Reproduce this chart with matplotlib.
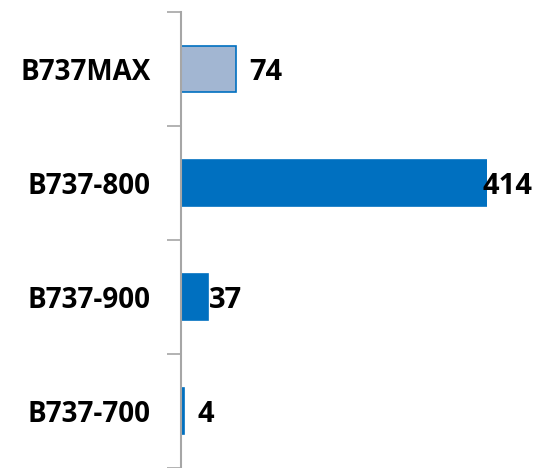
import matplotlib.pyplot as plt
import numpy as np

# data (top to bottom in the picture)
models = ['B737MAX', 'B737-800', 'B737-900', 'B737-700']
counts = [74, 414, 37, 4]
face_colors = ['#A2B6D2', '#0070C0', '#0070C0', '#0070C0']

plt.rcParams['font.family'] = ['Open Sans', 'DejaVu Sans']

fig = plt.figure(figsize=(5.36, 4.68), dpi=100)
ax = fig.add_axes([181 / 536, 0, 306 / 536, 456 / 468])

y = np.arange(len(models))[::-1]
ax.barh(y, counts, height=0.4, color=face_colors, edgecolor='#0070C0', linewidth=1.2)

ax.set_xlim(0, max(counts))
ax.set_ylim(-0.5, len(models) - 0.5)

# label offsets in points (as the source chart placed them)
label_dx = [10, -3, 0.5, 10]
for yi, v, dx in zip(y, counts, label_dx):
    ax.annotate(str(v), (v, yi), xytext=(dx, 0), textcoords='offset points',
                ha='left', va='center_baseline', fontsize=21, fontweight='bold',
                annotation_clip=False)

ax.set_yticks(y)
ax.set_yticklabels(models, fontsize=20, fontweight='bold', va='center_baseline')
ax.tick_params(axis='y', which='major', length=0, pad=22)
ax.set_yticks(np.arange(-0.5, len(models), 1.0), minor=True)
ax.tick_params(axis='y', which='minor', length=10, width=1.2, color='#A6A6A6')

ax.set_xticks([])
for s in ['top', 'right', 'bottom']:
    ax.spines[s].set_visible(False)
ax.spines['left'].set_color('#A6A6A6')
ax.spines['left'].set_linewidth(1.5)

fig.savefig('out.png', dpi=100)
